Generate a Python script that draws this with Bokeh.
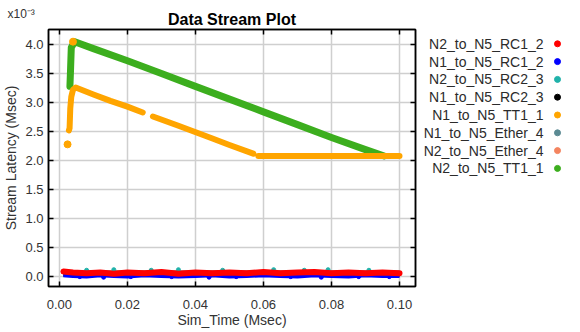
import numpy as np
from bokeh.plotting import figure
from bokeh.models import (Range1d, FixedTicker, CustomJSTickFormatter, LinearAxis,
                          ColumnDataSource)
from bokeh.layouts import row
from bokeh.embed import file_html
from bokeh.resources import INLINE
from bokeh.core.properties import value

FONT = "Liberation Sans"
NAN = float("nan")

# ---------------- data (latency values in units of 1e-3 Msec) ----------------
series_names = ["N2_to_N5_RC1_2", "N1_to_N5_RC1_2", "N2_to_N5_RC2_3", "N1_to_N5_RC2_3",
                "N1_to_N5_TT1_1", "N1_to_N5_Ether_4", "N2_to_N5_Ether_4", "N2_to_N5_TT1_1"]
series_colors = ["#ff0000", "#0000ff", "#20b2aa", "#000000",
                 "#ffa500", "#5b8a93", "#f4845f", "#3cae1e"]

x_ticks = [0.0, 0.02, 0.04, 0.06, 0.08, 0.10]
y_ticks_e3 = [0.0, 0.5, 1.0, 1.5, 2.0, 2.5, 3.0, 3.5, 4.0]

# N2_to_N5_TT1_1 (green)
green_x = [0.0031, 0.0033, 0.0035, 0.0045, 0.0100, 0.0200, 0.0300, 0.0400,
           0.0500, 0.0600, 0.0700, 0.0800, 0.0900, 0.0955]
green_y = [3.28, 3.60, 3.95, 4.05, 3.93, 3.72, 3.50, 3.28,
           3.06, 2.84, 2.62, 2.40, 2.19, 2.08]

# N1_to_N5_TT1_1 (orange), NaN = gap in the stream
orange_x = [0.0028, 0.0030, 0.0032, 0.0035, 0.0040, 0.0048, 0.0100, 0.0150, 0.0200, 0.0245,
            NAN, 0.0275, 0.0350, 0.0450, 0.0500, 0.0570,
            NAN, 0.0585, 0.0700, 0.0800, 0.0900, 0.1000]
orange_y = [2.52, 2.56, 2.90, 3.10, 3.22, 3.26, 3.14, 3.03, 2.93, 2.83,
            NAN, 2.76, 2.60, 2.38, 2.27, 2.12,
            NAN, 2.08, 2.08, 2.08, 2.08, 2.08]
orange_pts_x = [0.0024, 0.0040]
orange_pts_y = [2.28, 4.05]

# low-latency streams
low_x = [0.0012, 0.004, 0.008, 0.012, 0.016, 0.020, 0.025, 0.030, 0.035, 0.040, 0.045,
         0.050, 0.055, 0.060, 0.065, 0.070, 0.075, 0.080, 0.085, 0.090, 0.095, 0.100]
red_y = [0.09, 0.07, 0.06, 0.07, 0.05, 0.07, 0.06, 0.08, 0.05, 0.07, 0.06,
         0.07, 0.06, 0.08, 0.06, 0.07, 0.08, 0.06, 0.07, 0.06, 0.07, 0.06]
blue_y = [0.04, 0.03, 0.02, 0.04, 0.03, 0.02, 0.04, 0.03, 0.02, 0.03, 0.04,
          0.02, 0.03, 0.04, 0.03, 0.02, 0.04, 0.03, 0.02, 0.04, 0.03, 0.03]
black_y = [0.05, 0.05, 0.05, 0.05, 0.05, 0.05, 0.05, 0.05, 0.05, 0.05, 0.05,
           0.05, 0.05, 0.05, 0.05, 0.05, 0.05, 0.05, 0.05, 0.05, 0.05, 0.05]
blue_pts_x = [0.006, 0.013, 0.021, 0.033, 0.044, 0.052, 0.068, 0.077, 0.088, 0.097]
blue_pts_y = [0.00, -0.01, 0.00, 0.00, -0.01, 0.00, 0.00, -0.01, 0.00, 0.00]
cyan_pts_x = [0.008, 0.016, 0.027, 0.035, 0.048, 0.063, 0.072, 0.079, 0.091]
cyan_pts_y = [0.11, 0.12, 0.11, 0.12, 0.11, 0.12, 0.11, 0.12, 0.11]

E3 = 1e-3
def sc(v):
    return [a * E3 for a in v]

# ---------------- main figure ----------------
PW, H = 420, 330
FRAME_TOP, FRAME_BOTTOM = 29, 286
p = figure(width=PW, height=H, output_backend="svg", toolbar_location=None,
           x_range=Range1d(-0.0032, 0.1047), y_range=Range1d(-0.17e-3, 4.26e-3),
           min_border_left=48, min_border_right=5, min_border_top=FRAME_TOP,
           min_border_bottom=H - FRAME_BOTTOM,
           title="\nx10\u207B\u00B3")
p.title.align = "left"
p.title.vertical_align = "top"
p.title.offset = -41
p.title.standoff = -30
p.title.text_line_height = 1.0
p.title.text_font = FONT
p.title.text_font_size = "12px"
p.title.text_font_style = "normal"
p.title.text_color = "#333333"
p.outline_line_color = "#000000"
p.outline_line_width = 1.5

p.xaxis.ticker = FixedTicker(ticks=x_ticks)
p.yaxis.ticker = FixedTicker(ticks=sc(y_ticks_e3))
p.xaxis.formatter = CustomJSTickFormatter(code="return tick.toFixed(2);")
p.yaxis.formatter = CustomJSTickFormatter(code="return (tick*1000).toFixed(1);")
p.xaxis.axis_label = "Sim_Time (Msec)"
p.yaxis.axis_label = "Stream Latency (Msec)"

for ax in (p.xaxis[0], p.yaxis[0]):
    ax.major_label_text_font = FONT
    ax.major_label_text_font_size = "13px"
    ax.major_label_text_color = "#333333"
    ax.axis_label_text_font = FONT
    ax.axis_label_text_font_size = "14px"
    ax.axis_label_text_font_style = "normal"
    ax.axis_label_text_color = "#333333"
    ax.axis_line_color = "#000000"
    ax.axis_line_width = 1.5
    ax.major_tick_in = 5
    ax.major_tick_out = 0
    ax.major_tick_line_color = "#000000"
    ax.major_tick_line_width = 1.5
    ax.minor_tick_line_color = None
p.xaxis.major_label_standoff = 13
p.xaxis.axis_label_standoff = 0
p.yaxis.major_label_standoff = 5
p.yaxis.axis_label_standoff = 3

# mirrored tick axes (top carries the chart heading)
for side, tk in (("above", x_ticks), ("right", sc(y_ticks_e3))):
    a = LinearAxis(ticker=FixedTicker(ticks=tk),
                   formatter=CustomJSTickFormatter(code="return '';"))
    a.major_label_text_font_size = "1px"
    a.major_label_standoff = 0
    a.axis_line_color = "#000000"
    a.axis_line_width = 1.5
    a.major_tick_in = 5
    a.major_tick_out = 0
    a.major_tick_line_color = "#000000"
    a.major_tick_line_width = 1.5
    a.minor_tick_line_color = None
    if side == "above":
        a.axis_label = "Data Stream Plot"
        a.axis_label_text_font = FONT
        a.axis_label_text_font_size = "16px"
        a.axis_label_text_font_style = "bold"
        a.axis_label_text_color = "#000000"
        a.axis_label_standoff = 2
    p.add_layout(a, side)

p.grid.grid_line_color = "#cfcfcf"
p.grid.grid_line_width = 1.5

# low streams (hidden ones first)
p.line(low_x, sc(black_y), line_color=series_colors[5], line_width=6)
p.line(low_x, sc(black_y), line_color=series_colors[6], line_width=6)
p.line(low_x, sc(black_y), line_color=series_colors[3], line_width=6)
p.scatter(cyan_pts_x, sc(cyan_pts_y), color=series_colors[2], size=4)
p.scatter(blue_pts_x, sc(blue_pts_y), color=series_colors[1], size=4)
p.line(low_x, sc(blue_y), line_color=series_colors[1], line_width=6)
p.line(low_x, sc(red_y), line_color=series_colors[0], line_width=6,
       line_cap="round", line_join="round")

# TT1 streams
p.line(green_x, sc(green_y), line_color=series_colors[7], line_width=7,
       line_cap="round", line_join="round")
p.line(orange_x, sc(orange_y), line_color=series_colors[4], line_width=6,
       line_cap="round", line_join="round")
p.scatter(orange_pts_x, sc(orange_pts_y), color=series_colors[4], size=7)

# ---------------- legend panel (label, then coloured dot) ----------------
# its frame is aligned with the main frame, so the y range spans the frame's pixel rows
LW = 156
lg = figure(width=LW, height=H, output_backend="svg", toolbar_location=None,
            x_range=Range1d(PW, PW + LW), y_range=Range1d(FRAME_BOTTOM, FRAME_TOP),
            x_axis_type=None, y_axis_type=None, min_border_left=0, min_border_right=0,
            min_border_top=FRAME_TOP, min_border_bottom=H - FRAME_BOTTOM,
            outline_line_color=None)
lg.grid.visible = False
ys = [43.3 + 17.8 * i for i in range(len(series_names))]
src = ColumnDataSource(dict(name=series_names, color=series_colors, y=ys,
                            tx=[543] * len(ys), dx=[557] * len(ys)))
lg.text(x="tx", y="y", text="name", source=src, text_align="right", text_baseline="middle",
        text_font=value(FONT), text_font_size="14px", text_color="#2b2b2b")
lg.scatter(x="dx", y="y", color="color", source=src, size=6)

layout = row(p, lg)
open("out.html", "w").write(file_html(layout, INLINE))
